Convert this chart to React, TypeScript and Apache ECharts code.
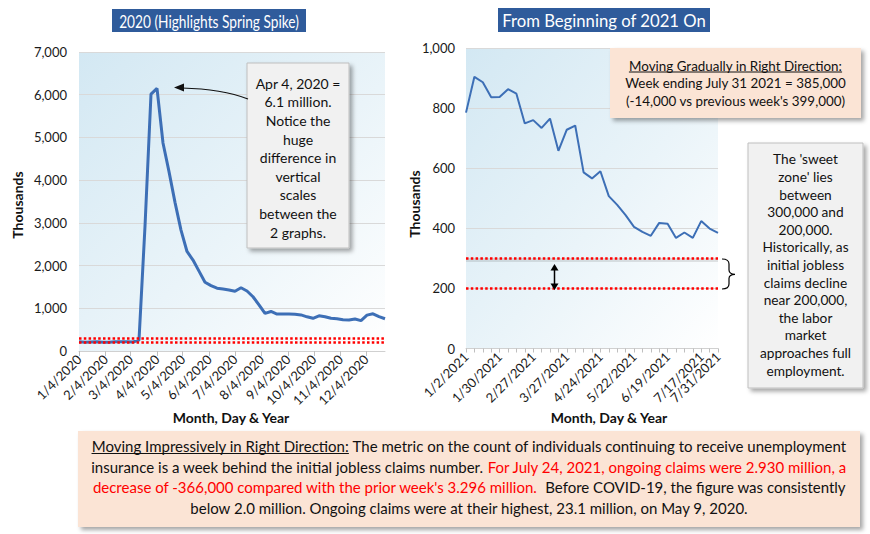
import React, { useEffect, useRef } from "react";
import * as echarts from "echarts";

const weeks2020 = [
  "1/4/2020","1/11/2020","1/18/2020","1/25/2020","2/1/2020","2/8/2020","2/15/2020","2/22/2020","2/29/2020","3/7/2020",
  "3/14/2020","3/21/2020","3/28/2020","4/4/2020","4/11/2020","4/18/2020","4/25/2020","5/2/2020","5/9/2020","5/16/2020",
  "5/23/2020","5/30/2020","6/6/2020","6/13/2020","6/20/2020","6/27/2020","7/4/2020","7/11/2020","7/18/2020","7/25/2020",
  "8/1/2020","8/8/2020","8/15/2020","8/22/2020","8/29/2020","9/5/2020","9/12/2020","9/19/2020","9/26/2020","10/3/2020",
  "10/10/2020","10/17/2020","10/24/2020","10/31/2020","11/7/2020","11/14/2020","11/21/2020","11/28/2020","12/5/2020","12/12/2020",
  "12/19/2020","12/26/2020",
];
const claims2020 = [
  214, 207, 212, 215, 204, 206, 215, 219, 217, 211,
  256, 2920, 6015, 6149, 4870, 4200, 3480, 2830, 2330, 2130,
  1870, 1610, 1530, 1470, 1450, 1430, 1400, 1480, 1405, 1270,
  1080, 880, 925, 865, 865, 865, 860, 845, 800, 765,
  825, 800, 765, 755, 730, 725, 750, 712, 840, 870,
  805, 755,
];
const monthTicks2020 = [
  "1/4/2020","2/4/2020","3/4/2020","4/4/2020","5/4/2020","6/4/2020",
  "7/4/2020","8/4/2020","9/4/2020","10/4/2020","11/4/2020","12/4/2020",
];
const weeks2021 = [
  "1/2/2021","1/9/2021","1/16/2021","1/23/2021","1/30/2021","2/6/2021","2/13/2021","2/20/2021","2/27/2021","3/6/2021",
  "3/13/2021","3/20/2021","3/27/2021","4/3/2021","4/10/2021","4/17/2021","4/24/2021","5/1/2021","5/8/2021","5/15/2021",
  "5/22/2021","5/29/2021","6/5/2021","6/12/2021","6/19/2021","6/26/2021","7/3/2021","7/10/2021","7/17/2021","7/24/2021",
  "7/31/2021",
];
const claims2021 = [
  785, 904, 886, 836, 837, 863, 848, 749, 760, 734,
  765, 658, 728, 742, 586, 566, 590, 507, 478, 444,
  405, 388, 375, 418, 415, 368, 386, 368, 424, 399,
  385,
];
const labelIdx2021 = [0, 4, 8, 12, 16, 20, 24, 28];
const lastLabelIdx2021 = 30;
const sweetZone = [300, 200];
const leftY = { min: 0, max: 7000, step: 1000 };
const rightY = { min: 0, max: 1000, step: 200 };

const CAL = "Lato, 'Open Sans', sans-serif";
const AX = "Lato, 'Open Sans', sans-serif";

echarts.graphic.registerShape(
  "brace",
  echarts.graphic.extendPath(
    "M0,0 C5,0 7,1.5 7,5 L7,11 C7,13.5 9,15.3 13,15.3 C9,15.3 7,17 7,19.5 L7,25 C7,28.5 5,30 0,30",
    {}
  )
);

const toTime = (s: string) => {
  const [m, d, y] = s.split("/").map(Number);
  return new Date(y, m - 1, d).getTime();
};
const DAY = 86400000;
const T0 = toTime(weeks2020[0]);
const toDay = (s: string) => Math.round((toTime(s) - T0) / DAY);
const dayLabel = (v: number) => {
  const d = new Date(T0 + v * DAY + DAY / 2);
  return `${d.getMonth() + 1}/${d.getDate()}/${d.getFullYear()}`;
};

let mctx: CanvasRenderingContext2D | null = null;
const tw = (s: string, size: number, weight = "normal") => {
  if (!mctx) mctx = document.createElement("canvas").getContext("2d");
  mctx!.font = `${weight} ${size}px ${CAL}`;
  return mctx!.measureText(s).width;
};

function buildOption() {
  const plotBg = () =>
    new echarts.graphic.LinearGradient(0, 0, 1, 1, [
      { offset: 0, color: "#d3e8f3" },
      { offset: 0.55, color: "#eaf4f9" },
      { offset: 1, color: "#ffffff" },
    ]);
  const shadow = {
    shadowBlur: 4,
    shadowOffsetX: 3,
    shadowOffsetY: 3,
    shadowColor: "rgba(0,0,0,0.35)",
  };
  const els: any[] = [];
  // Titles
  els.push({ type: "rect", z: 100, shape: { x: 112, y: 9, width: 194, height: 23 }, style: { fill: "#2f5b9b" } });
  els.push({ type: "text", z: 101, x: 209, y: 21, scaleX: 0.83, style: { text: "2020 (Highlights Spring Spike)", fill: "#fff", fontSize: 16.5, fontFamily: AX, align: "center", verticalAlign: "middle" } });
  els.push({ type: "rect", z: 100, shape: { x: 498, y: 8, width: 212, height: 24 }, style: { fill: "#2f5b9b" } });
  els.push({ type: "text", z: 101, x: 604, y: 20.5, style: { text: "From Beginning of 2021 On", fill: "#fff", fontSize: 16.7, fontFamily: AX, align: "center", verticalAlign: "middle" } });
  // Axis titles
  const axTitle = { fill: "#111", fontSize: 14, fontWeight: "bold", fontFamily: AX, align: "center", verticalAlign: "middle" };
  els.push({ type: "text", z: 101, x: 17, y: 205, rotation: Math.PI / 2, style: { ...axTitle, text: "Thousands" } });
  els.push({ type: "text", z: 101, x: 414, y: 204, rotation: Math.PI / 2, style: { ...axTitle, text: "Thousands" } });
  els.push({ type: "text", z: 101, x: 231, y: 417, style: { ...axTitle, text: "Month, Day & Year" } });
  els.push({ type: "text", z: 101, x: 609, y: 417, style: { ...axTitle, text: "Month, Day & Year" } });

  // Left annotation box
  els.push({ type: "rect", z: 100, shape: { x: 247, y: 63, width: 102, height: 185 }, style: { fill: "#f1f1f1", stroke: "#bfbfbf", lineWidth: 1, ...shadow } });
  els.push({
    type: "text", z: 101, x: 298, y: 74,
    style: {
      text: ["Apr 4, 2020 =", "6.1 million.", "Notice the", "huge", "difference in", "vertical", "scales", "between the", "2 graphs."].join("\n"),
      fill: "#111", fontSize: 14, fontFamily: CAL, align: "center", verticalAlign: "top", lineHeight: 18.6,
    },
  });
  // Arrow to peak
  els.push({ type: "bezierCurve", z: 101, shape: { x1: 248, y1: 99, x2: 182, y2: 88, cpx1: 222, cpy1: 89 }, style: { stroke: "#111", lineWidth: 1.2, fill: "none" } });
  els.push({ type: "polygon", z: 101, shape: { points: [[174, 87.5], [184, 83.5], [184, 91.5]] }, style: { fill: "#111" } });

  // Top-right peach box
  els.push({ type: "rect", z: 100, shape: { x: 610, y: 48, width: 251, height: 70 }, style: { fill: "#fbe4d5", ...shadow } });
  const prSize = 13.4;
  const prLines = ["Moving Gradually in Right Direction:", "Week ending July 31 2021 = 385,000", "(-14,000 vs previous week's 399,000)"];
  els.push({
    type: "text", z: 101, x: 735.5, y: 56.8,
    style: { text: prLines.join("\n"), fill: "#111", fontSize: prSize, fontFamily: CAL, align: "center", verticalAlign: "top", lineHeight: 17.7 },
  });
  {
    const w = tw(prLines[0], prSize);
    els.push({ type: "line", z: 101, shape: { x1: 735.5 - w / 2, y1: 72, x2: 735.5 + w / 2, y2: 72 }, style: { stroke: "#111", lineWidth: 1 } });
  }

  // Right gray box
  els.push({ type: "rect", z: 100, shape: { x: 748, y: 143, width: 115, height: 245 }, style: { fill: "#f1f1f1", stroke: "#bfbfbf", lineWidth: 1, ...shadow } });
  els.push({
    type: "text", z: 101, x: 805.5, y: 150.2,
    style: {
      text: ["The 'sweet", "zone' lies", "between", "300,000 and", "200,000.", "Historically, as", "initial jobless", "claims decline", "near 200,000,", "the labor", "market", "approaches full", "employment."].join("\n"),
      fill: "#111", fontSize: 13.7, fontFamily: CAL, align: "center", verticalAlign: "top", lineHeight: 17.6,
    },
  });
  // Double arrow & brace
  els.push({ type: "line", z: 101, shape: { x1: 554.5, y1: 268, x2: 554.5, y2: 286 }, style: { stroke: "#000", lineWidth: 1.5 } });
  els.push({ type: "polygon", z: 101, shape: { points: [[554.5, 264], [550.5, 270.5], [558.5, 270.5]] }, style: { fill: "#000" } });
  els.push({ type: "polygon", z: 101, shape: { points: [[554.5, 290], [550.5, 283.5], [558.5, 283.5]] }, style: { fill: "#000" } });
  els.push({ type: "brace", z: 101, x: 722, y: 259, style: { fill: "none", stroke: "#000", lineWidth: 1.2 } });

  // Bottom box
  els.push({ type: "rect", z: 100, shape: { x: 78, y: 431, width: 782, height: 96 }, style: { fill: "#fbe4d5", ...shadow } });
  const fs = 15;
  const rich = {
    u: { fill: "#111", fontSize: fs, fontFamily: CAL },
    k: { fill: "#111", fontSize: fs, fontFamily: CAL },
    r: { fill: "#ff0000", fontSize: fs, fontFamily: CAL },
  };
  const bottomLines: [string, string][][] = [
    [["u", "Moving Impressively in Right Direction:"], ["k", " The metric on the count of individuals continuing to receive unemployment"]],
    [["k", "insurance is a week behind the initial jobless claims number. "], ["r", "For July 24, 2021, ongoing claims were 2.930 million, a"]],
    [["r", "decrease of -366,000 compared with the prior week's 3.296 million."], ["k", "  Before COVID-19, the figure was consistently"]],
    [["k", "below 2.0 million. Ongoing claims were at their highest, 23.1 million, on May 9, 2020."]],
  ];
  const cx = 469;
  const ys = [446, 466.5, 487, 507.5];
  bottomLines.forEach((segs, i) => {
    const text = segs.map(([s, t]) => `{${s}|${t}}`).join("");
    els.push({ type: "text", z: 101, x: cx, y: ys[i], style: { text, rich, fontSize: fs, fontFamily: CAL, fill: "#111", align: "center", verticalAlign: "middle" } });
    if (i === 0) {
      const total = segs.reduce((a, [, t]) => a + tw(t, fs), 0);
      const wU = tw(segs[0][1], fs);
      const x0 = cx - total / 2;
      els.push({ type: "line", z: 101, shape: { x1: x0, y1: ys[0] + 7.5, x2: x0 + wU, y2: ys[0] + 7.5 }, style: { stroke: "#111", lineWidth: 1 } });
    }
  });

  const redLine = { color: "#ff0000", width: 2.5, type: [2.5, 2.3] as any };
  const axisLabelBase = { color: "#1a1a1a", fontFamily: AX, fontSize: 13 };
  const monthDays = monthTicks2020.map(toDay);

  return {
    animation: false,
    backgroundColor: "#ffffff",
    grid: [
      { left: 79, top: 52, width: 306, height: 299, show: true, borderWidth: 0, backgroundColor: plotBg() },
      { left: 466, top: 48, width: 252, height: 300.5, show: true, borderWidth: 0, backgroundColor: plotBg() },
    ],
    xAxis: [
      {
        type: "value",
        gridIndex: 0,
        min: 0,
        max: toDay(weeks2020[weeks2020.length - 1]),
        axisLine: { show: true, onZero: false, lineStyle: { color: "#d0d0d0", width: 1 } },
        axisTick: { show: true, customValues: monthDays, length: 5, lineStyle: { color: "#bfbfbf" } },
        axisLabel: {
          ...axisLabelBase,
          customValues: monthDays,
          rotate: 45,
          margin: 6,
          formatter: (v: number) => dayLabel(v),
          hideOverlap: false,
        },
        splitLine: { show: false },
      },
      {
        type: "category",
        gridIndex: 1,
        data: weeks2021,
        boundaryGap: false,
        axisLine: { show: true, lineStyle: { color: "#d0d0d0", width: 1 } },
        axisTick: { show: true, interval: 0, length: 4, lineStyle: { color: "#bfbfbf" } },
        axisLabel: {
          ...axisLabelBase,
          interval: (i: number) => labelIdx2021.includes(i),
          rotate: 45,
          margin: 6,
        },
        splitLine: { show: false },
      },
      {
        type: "category",
        gridIndex: 1,
        position: "bottom",
        data: weeks2021,
        boundaryGap: false,
        axisLine: { show: false },
        axisTick: { show: false },
        axisLabel: {
          ...axisLabelBase,
          interval: (i: number) => i === lastLabelIdx2021,
          showMaxLabel: true,
          rotate: 45,
          margin: 6,
        },
        splitLine: { show: false },
      },
    ],
    yAxis: [
      {
        type: "value",
        gridIndex: 0,
        min: leftY.min,
        max: leftY.max,
        interval: leftY.step,
        axisLine: { show: false },
        axisTick: { show: false },
        axisLabel: { ...axisLabelBase, margin: 12, formatter: (v: number) => v.toLocaleString("en-US") },
        splitLine: { show: true, lineStyle: { color: "#d9d9d9", width: 1 } },
      },
      {
        type: "value",
        gridIndex: 1,
        min: rightY.min,
        max: rightY.max,
        interval: rightY.step,
        axisLine: { show: false },
        axisTick: { show: false },
        axisLabel: { ...axisLabelBase, margin: 11, formatter: (v: number) => v.toLocaleString("en-US") },
        splitLine: { show: true, lineStyle: { color: "#d9d9d9", width: 1 } },
      },
    ],
    series: [
      {
        type: "line",
        xAxisIndex: 0,
        yAxisIndex: 0,
        data: weeks2020.map((d, i) => [toDay(d), claims2020[i]]),
        showSymbol: false,
        symbol: "none",
        lineStyle: { color: "#3d6fb6", width: 3 },
        markLine: {
          silent: true,
          symbol: ["none", "none"],
          label: { show: false },
          lineStyle: redLine,
          data: sweetZone.map((v) => ({ yAxis: v })),
        },
      },
      {
        type: "line",
        xAxisIndex: 1,
        yAxisIndex: 1,
        data: claims2021,
        showSymbol: false,
        symbol: "none",
        lineStyle: { color: "#3d6fb6", width: 2 },
        markLine: {
          silent: true,
          symbol: ["none", "none"],
          label: { show: false },
          lineStyle: redLine,
          data: [
            { yAxis: sweetZone[0] - 6, lineStyle: { color: "rgba(0,0,0,0.10)", width: 4, type: "solid" } },
            ...sweetZone.map((v) => ({ yAxis: v })),
          ],
        },
      },
    ],
    graphic: { elements: els },
  };
}

export default function App() {
  const ref = useRef<HTMLDivElement>(null);
  useEffect(() => {
    document.body.style.margin = "0";
    const chart = echarts.init(ref.current!, null, { renderer: "svg" });
    chart.setOption(buildOption() as any);
    return () => chart.dispose();
  }, []);
  return <div ref={ref} style={{ width: 870, height: 534 }} />;
}
